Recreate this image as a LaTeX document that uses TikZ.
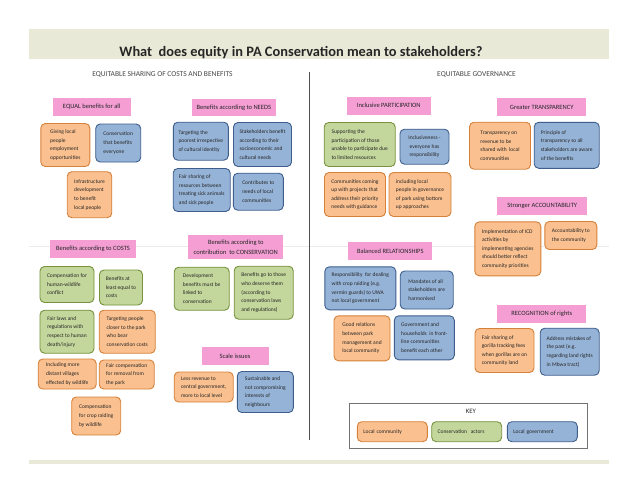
\documentclass[tikz,border=0pt]{standalone}
\usepackage{fontspec}
\setmainfont{Carlito}
\definecolor{pinkfill}{RGB}{244,158,212}
\definecolor{orfill}{RGB}{250,192,143}
\definecolor{ordraw}{RGB}{214,128,56}
\definecolor{blfill}{RGB}{149,179,215}
\definecolor{bldraw}{RGB}{62,94,140}
\definecolor{grfill}{RGB}{195,214,155}
\definecolor{grdraw}{RGB}{118,146,60}
\definecolor{bandcol}{RGB}{233,233,215}
\definecolor{txt}{RGB}{38,38,38}
\definecolor{divcol}{RGB}{80,80,80}
\begin{document}
\begin{tikzpicture}[x=1pt,y=-1pt,
  card/.style={rounded corners=4.5pt, line width=0.9pt, inner sep=2pt, align=left, text=txt, font=\fontsize{5.5}{8.6}\selectfont},
  orangecard/.style={card, draw=ordraw, fill=orfill},
  bluecard/.style={card, draw=bldraw, fill=blfill},
  greencard/.style={card, draw=grdraw, fill=grfill},
  head/.style={fill=pinkfill, inner sep=1pt, align=center, text=txt, font=\fontsize{6.5}{10.4}\selectfont},
  sz/.style 2 args={minimum width=#1pt, minimum height=#2pt},
  sechead/.style={text=txt!85, font=\fontsize{7.5}{9}\selectfont, inner sep=0pt},
  keyitem/.style={text width=58pt, align=left},
]
\useasboundingbox (0,0) rectangle (638,493);
\fill[white] (0,0) rectangle (638,493);
% bands
\fill[bandcol] (29,29.3) rectangle (608.7,59.3);
\fill[bandcol] (29,459.8) rectangle (608.7,463.5);
\draw[black!8, line width=0.5pt] (29,246) -- (608.7,246);
\node[anchor=base, text=txt, font=\fontsize{14.4}{17}\selectfont\bfseries, inner sep=0pt] (title) at (301,56) {What\ \ does equity in PA Conservation mean to stakeholders?};
\node[sechead] (hleft) at (162.5,75) {EQUITABLE SHARING OF COSTS AND BENEFITS};
\node[sechead] (hright) at (476.5,75) {EQUITABLE GOVERNANCE};
\coordinate (divtop) at (309.5,71.5);
\coordinate (divbot) at (309.5,440);
\draw[divcol, line width=1.2pt] (divtop) -- (divbot);

% ---- left: EQUAL
\node[head, sz={78}{17.5}] (pEqual) at (91.7,107) {EQUAL benefits for all};
\node[orangecard, sz={49}{43}] (bGiving) at (65.3,145) {Giving local\\people\\employment\\opportunities};
\node[bluecard, sz={45}{38}] (bConsEvery) at (118.2,143) {Conservation\\that benefits\\everyone};
\node[orangecard, sz={44.5}{46}] (bInfra) at (89.5,194.7) {Infrastructure\\development\\to benefit\\local people};
% ---- NEEDS
\node[head, sz={84}{17}] (pNeeds) at (233.8,107.3) {Benefits according to NEEDS};
\node[bluecard, sz={55}{38}] (bTargetPoor) at (200.8,141.2) {Targeting the\\poorest irrespective\\of cultural identity};
\node[bluecard, sz={58}{44}] (bStake) at (262.5,144.5) {Stakeholders benefit\\according to their\\socioeconomic  and\\cultural needs};
\node[bluecard, sz={57}{43}] (bFairShare) at (201.7,190) {Fair sharing of\\resources between\\treating sick animals\\and sick people};
\node[bluecard, sz={50}{37}] (bContrib) at (258.3,191.7) {Contributes to\\needs of local\\communities};
% ---- COSTS
\node[head, sz={86}{18}] (pCosts) at (93,249) {Benefits according to COSTS};
\node[greencard, sz={54}{36}] (bCompHW) at (67,284.5) {Compensation for\\human-wildlife\\conflict};
\node[greencard, sz={43}{35}] (bAtLeast) at (121,287.5) {Benefits at\\least equal to\\costs};
\node[greencard, sz={54}{43}] (bFairLaws) at (67,331.7) {Fair laws and\\regulations with\\respect to human\\death/injury};
\node[orangecard, sz={56}{43}] (bTargetPeople) at (127.2,331.7) {Targeting people\\closer to the park\\who bear\\conservation costs};
\node[orangecard, sz={58}{30}] (bDistant) at (67.2,374) {Including more\\distant villages\\effected by wildlife};
\node[orangecard, sz={55}{29}] (bFairComp) at (126.7,374.5) {Fair compensation\\for removal from\\the park};
\node[orangecard, sz={49}{38}] (bCropRaid) at (96.2,416) {Compensation\\for crop raiding\\by wildlife};
% ---- CONSERVATION
\node[head, sz={95}{24}] (pCons) at (235.8,247) {Benefits according to\\contribution\ \ to CONSERVATION};
\node[greencard, sz={55}{43}] (bDevBen) at (201.7,288.7) {Development\\benefits must be\\linked to\\conservation};
\node[greencard, sz={59}{53}] (bDeserve) at (263.7,292.7) {Benefits go to those\\who deserve them\\(according to\\conservation laws\\and regulations)};
% ---- Scale
\node[head, sz={67}{18}] (pScale) at (235,356) {Scale issues};
\node[orangecard, sz={59}{30}] (bRevenue) at (203.7,387) {Less revenue to\\central government,\\more to local level};
\node[bluecard, sz={56}{41}] (bSustain) at (265.3,392) {Sustainable and\\not compromising\\interests of\\neighbours};

% ---- right: PARTICIPATION
\node[head, sz={84}{18}] (pPart) at (388.8,105.5) {Inclusive PARTICIPATION};
\node[greencard, sz={71}{44}] (bSupport) at (359.7,144.5) {Supporting the\\participation of those\\unable to participate due\\to limited resources};
\node[bluecard, sz={49}{35}, align=center] (bInclus) at (424.5,146.7) {Inclusiveness -\\everyone has\\responsibility};
\node[orangecard, sz={61}{44}] (bCommun) at (355,194.5) {Communities coming\\up with projects that\\address their priority\\needs with guidance};
\node[orangecard, sz={62}{44}] (bIncLocal) at (420,194.5) {including local\\people in governance\\of park using bottom\\up approaches};
% ---- TRANSPARENCY
\node[head, sz={89}{17.5}] (pTransp) at (541.7,107) {Greater TRANSPARENCY};
\node[orangecard, sz={61}{47}] (bTranspRev) at (500,145.7) {Transparency on\\revenue to be\\shared with\ \ local\\communities};
\node[bluecard, sz={65}{46}] (bPrinciple) at (566.7,145.3) {Principle of\\transparency so all\\stakeholders are aware\\of the benefits};
% ---- ACCOUNTABILITY
\node[head, sz={90}{18}] (pAccount) at (542.3,205.5) {Stronger ACCOUNTABILITY};
\node[orangecard, sz={66}{54}] (bImpl) at (507.8,248.8) {Implementation of ICD\\activities by\\implementing agencies\\should better reflect\\community priorities};
\node[orangecard, sz={52}{28}] (bAccComm) at (570.8,235.5) {Accountability to\\the community};
% ---- RECOGNITION
\node[head, sz={89}{18}] (pRecog) at (541.7,313.8) {RECOGNITION of rights};
\node[orangecard, sz={59}{44}] (bGorilla) at (504.5,350.5) {Fair sharing of\\gorilla tracking fees\\when gorillas are on\\community land};
\node[bluecard, sz={59}{47}] (bMistakes) at (569.7,351.7) {Address mistakes of\\the past (e.g.\\regarding land rights\\in Mbwa tract)};
% ---- RELATIONSHIPS
\node[head, sz={84}{18}] (pRel) at (390.3,251) {Balanced RELATIONSHIPS};
\node[bluecard, sz={71}{43}] (bResp) at (360.3,288.3) {Responsibility\ \ for dealing\\with crop raiding (e.g.\\vermin guards) to UWA\\not local government};
\node[bluecard, sz={53}{38}] (bMandates) at (426.7,290) {Mandates of all\\stakeholders are\\harmonised};
\node[orangecard, sz={56}{45}] (bGood) at (362,338.3) {Good relations\\between park\\management and\\local community};
\node[bluecard, sz={60}{44}] (bGovHH) at (424.3,337.8) {Government and\\households\ \ in front-\\line communities\\benefit each other};

% ---- KEY
\node[draw=black!55, line width=0.8pt, sz={238}{45}, inner sep=0pt] (keybox) at (468.3,425.8) {};
\node[text=txt, font=\fontsize{6.7}{8}\selectfont, inner sep=0pt] (keylabel) at (471,411) {KEY};
\node[orangecard, keyitem, sz={70}{20}] (kLocal) at (392.3,431.7) {Local community};
\node[greencard, keyitem, sz={70}{20}] (kCons) at (466.7,431.7) {Conservation\ \ actors};
\node[bluecard, keyitem, sz={70}{20}] (kGov) at (542.3,431.7) {Local government};
\end{tikzpicture}
\end{document}
